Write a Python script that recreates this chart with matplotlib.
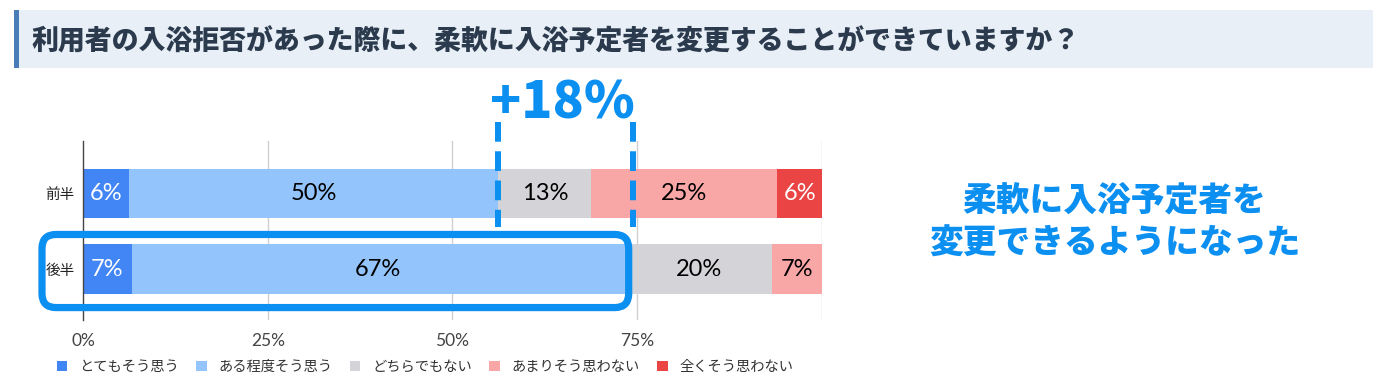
import matplotlib
matplotlib.use("Agg")
import matplotlib.pyplot as plt
from matplotlib.patches import FancyBboxPatch, Rectangle
from matplotlib.transforms import IdentityTransform
import numpy as np

plt.rcParams['font.family'] = ['Noto Sans CJK JP', 'DejaVu Sans']

# ---------------- data ----------------
title = "利用者の入浴拒否があった際に、柔軟に入浴予定者を変更することができていますか？"
groups = ["前半", "後半"]
series = ["とてもそう思う", "ある程度そう思う", "どちらでもない", "あまりそう思わない", "全くそう思わない"]
first_half = [6.2, 50.0, 12.6, 25.1, 6.2]
second_half = [6.6, 66.7, 20.0, 6.7, 0.0]
xticks = [0, 25, 50, 75, 100]
xtick_labels = ["0%", "25%", "50%", "75%", ""]
message_lines = ["柔軟に入浴予定者を", "変更できるようになった"]

colors = ["#4285f4", "#93c4fb", "#d4d4d8", "#f8a6a6", "#ea4444"]
label_colors = ["white", "black", "black", "black", "white"]
accent = "#0b8ff0"

W, H = 1388, 390
fig = plt.figure(figsize=(W / 100, H / 100), dpi=100)

# ---------------- title banner ----------------
fig.patches.append(Rectangle((15 / W, 1 - 68 / H), (1373 - 15) / W, 58 / H,
                             transform=fig.transFigure, facecolor="#e8eff6",
                             edgecolor="none", zorder=0))
fig.patches.append(Rectangle((14 / W, 1 - 68 / H), 5 / W, 58 / H,
                             transform=fig.transFigure, facecolor="#4a7db8",
                             edgecolor="none", zorder=1))
fig.text(32 / W, 1 - 41 / H, title, fontsize=19.4, fontweight="heavy",
         color="#2b3a4d", ha="left", va="center")

# ---------------- axes ----------------
ax = fig.add_axes([83 / W, 70 / H, 739 / W, 179 / H])
data = np.array([first_half, second_half])
ypos = np.arange(len(groups))
bar_h = 0.65
lefts = np.zeros(len(groups))
for j, name in enumerate(series):
    vals = data[:, j]
    ax.barh(ypos, vals, left=lefts, height=bar_h, color=colors[j],
            label=name, zorder=2)
    for i, v in enumerate(vals):
        if v > 0:
            ax.text(lefts[i] + v / 2, ypos[i], f"{round(v)}%", ha="center",
                    va="center", fontsize=17, color=label_colors[j],
                    family=["Lato", "DejaVu Sans"], zorder=3)
    lefts += vals

ax.set_xlim(0, 100)
ax.set_ylim(1.675, -0.695)
ax.set_yticks(ypos)
ax.set_yticklabels(groups, fontsize=10.5, color="#222222")
ax.set_xticks(xticks)
ax.set_xticklabels(xtick_labels, fontsize=12.5, color="#444444",
                   family=["Lato", "DejaVu Sans"])
ax.tick_params(length=0)
ax.tick_params(axis="x", pad=9)
ax.tick_params(axis="y", pad=6)
for s in ["top", "right", "bottom"]:
    ax.spines[s].set_visible(False)
ax.spines["left"].set_color("#444444")
ax.spines["left"].set_linewidth(1)
for t in xticks[1:]:
    ax.axvline(t, color="#d0d0d0", lw=1, zorder=1)

# ---------------- highlight & annotation ----------------
fig.canvas.draw()
T = ax.transData
cum_early = sum(first_half[:2])
cum_late = sum(second_half[:2])
x_left_px = T.transform((0, 1))[0] - 41
x_right_px = T.transform((cum_late, 1))[0] + 4
y_top_px = T.transform((0, 1 - bar_h / 2))[1] + 10
y_bot_px = T.transform((0, 1 + bar_h / 2))[1] - 14
r = 14
box = FancyBboxPatch((x_left_px + r, y_bot_px + r),
                     (x_right_px - x_left_px) - 2 * r, (y_top_px - y_bot_px) - 2 * r,
                     boxstyle=f"round,pad={r}", transform=IdentityTransform(),
                     facecolor="none", edgecolor=accent, linewidth=5.2,
                     zorder=5)
fig.patches.append(box)

dash_x1 = T.transform((cum_early, 0))[0]
dash_x2 = x_right_px + 4
dash_top = H - 122
dash_bot = H - 227
for xx in (dash_x1, dash_x2):
    fig.lines.append(plt.Line2D([xx / W, xx / W], [dash_top / H, dash_bot / H],
                                transform=fig.transFigure, color=accent,
                                lw=4.3, dashes=(3.3, 1.6), zorder=6))

diff = (round(second_half[0]) + round(second_half[1])) - (round(first_half[0]) + round(first_half[1]))
fig.text((dash_x1 + dash_x2) / 2 / W - 3 / W, 1 - 103 / H, f"+{diff}%",
         fontsize=37, fontweight="black", color=accent, ha="center",
         va="center", family=["Noto Sans CJK JP", "DejaVu Sans"])

# ---------------- right message ----------------
fig.text(1114 / W, 1 - 200 / H, message_lines[0], fontsize=24.3, fontweight="black",
         color=accent, ha="center", va="center")
fig.text(1115 / W, 1 - 243 / H, message_lines[1], fontsize=24.3, fontweight="black",
         color=accent, ha="center", va="center")

# ---------------- legend ----------------
handles, labels = ax.get_legend_handles_labels()
fig.legend(handles, labels, ncol=5, loc="center left",
           bbox_to_anchor=(57 / W, 1 - 367 / H), frameon=False, fontsize=10.3,
           handlelength=0.72, handleheight=0.72, handletextpad=0.85,
           columnspacing=1.2, borderpad=0, borderaxespad=0,
           labelcolor="#333333")

fig.savefig("out.png", dpi=100)
